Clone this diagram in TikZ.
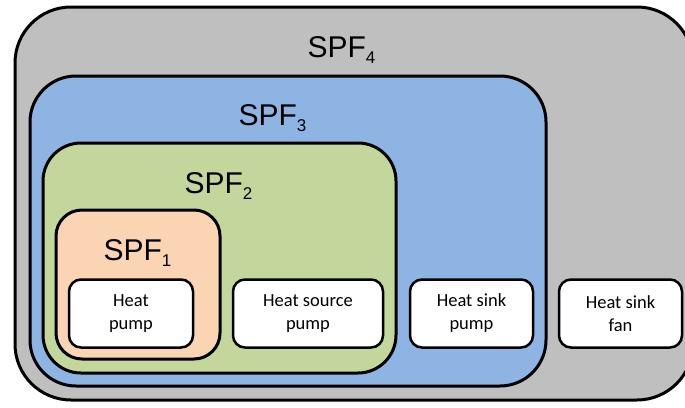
\documentclass[tikz,border=0pt]{standalone}
\usepackage{fontspec}
\setmainfont{Liberation Sans}
\newfontfamily\boxfont{Carlito}
\definecolor{spfgrey}{RGB}{191,191,191}
\definecolor{spfblue}{RGB}{141,180,226}
\definecolor{spfgreen}{RGB}{195,214,155}
\definecolor{spforange}{RGB}{251,212,180}
\newcommand{\spflabel}[1]{SPF\raisebox{-6pt}{\fontsize{17}{17}\selectfont #1}}

\begin{document}
\begin{tikzpicture}[x=1pt,y=-1pt,line width=3pt,
  region/.style={draw=black,rounded corners=#1},
  lbl/.style={inner sep=0pt,anchor=base west,font=\fontsize{30}{36}\selectfont},
  unit/.style={draw=black,fill=white,line width=2.5pt,rounded corners=12pt,
    minimum height=68pt,align=center,inner sep=0pt,
    font=\boxfont\fontsize{18.5}{23}\selectfont}]
\useasboundingbox (0,0) rectangle (685,407);
\clip (0,0) rectangle (685,407);
\draw[region=56pt,fill=spfgrey] (15,7) rectangle (693,400);
\draw[region=46pt,fill=spfblue] (30,76) rectangle (546,386);
\draw[region=38pt,fill=spfgreen] (43,143) rectangle (396,373);
\draw[region=26pt,fill=spforange] (56,210) rectangle (220,359);

\node[lbl] (spf4) at (306,57) {\spflabel{4}};
\node[lbl] (spf3) at (237,125) {\spflabel{3}};
\node[lbl] (spf2) at (183,193) {\spflabel{2}};
\node[lbl] (spf1) at (102,260) {\spflabel{1}};

\node[unit,minimum width=124pt] (hp) at (131,313.5) {Heat\\pump};
\node[unit,minimum width=150pt] (hsrc) at (308,313.5) {Heat source\\pump};
\node[unit,minimum width=123pt] (hsink) at (471.5,313.5) {Heat sink\\pump};
\node[unit,minimum width=123pt] (hfan) at (620.5,313.5) {Heat sink\\fan};

\end{tikzpicture}
\end{document}
